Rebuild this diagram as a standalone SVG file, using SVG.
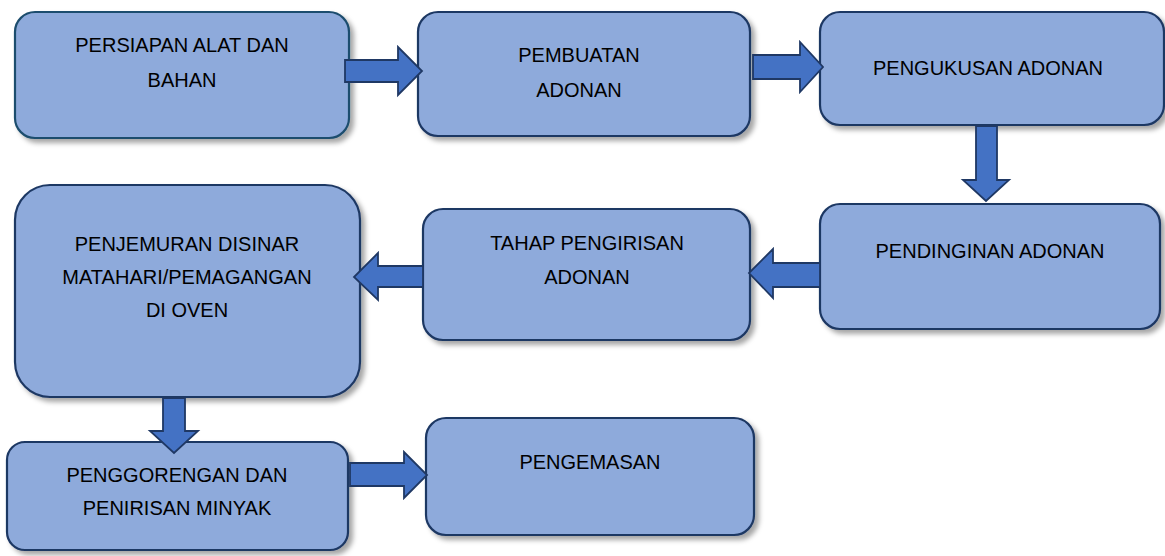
<svg xmlns="http://www.w3.org/2000/svg" width="1165" height="556" viewBox="0 0 1165 556">
<style>
.box{fill:#8eaadb;stroke:#1f3864;stroke-width:2.2;filter:url(#sh)}
.arr{fill:#4472c4;stroke:#1f3864;stroke-width:1.8;stroke-linejoin:miter}
text{font-family:"Liberation Sans",Arial,sans-serif;font-size:20px;fill:#000;text-anchor:middle}
</style>
<defs>
<filter id="sh" x="-10%" y="-10%" width="125%" height="130%">
<feDropShadow dx="4" dy="4" stdDeviation="2.5" flood-color="#000" flood-opacity="0.35"/>
</filter>
</defs>
<rect width="1165" height="556" fill="#fff"/>
<g id="n1"><rect class="box" x="15" y="12" width="334" height="126" rx="20" style="stroke:#1f4e6e"/><text x="182" y="52">PERSIAPAN ALAT DAN</text><text x="182" y="87">BAHAN</text></g>
<g id="n2"><rect class="box" x="418" y="12" width="332" height="124" rx="20"/><text x="579" y="62">PEMBUATAN</text><text x="579" y="97">ADONAN</text></g>
<g id="n3"><rect class="box" x="820" y="12" width="344" height="113" rx="20"/><text x="988" y="75">PENGUKUSAN ADONAN</text></g>
<g id="n4"><rect class="box" x="820" y="204" width="340" height="125" rx="20"/><text x="990" y="258">PENDINGINAN ADONAN</text></g>
<g id="n5"><rect class="box" x="423" y="209" width="327" height="131" rx="20"/><text x="587" y="250">TAHAP PENGIRISAN</text><text x="587" y="284">ADONAN</text></g>
<g id="n6"><rect class="box" x="15" y="185" width="345" height="212" rx="35"/><text x="187" y="251">PENJEMURAN DISINAR</text><text x="187" y="284">MATAHARI/PEMAGANGAN</text><text x="187" y="317">DI OVEN</text></g>
<g id="n7"><rect class="box" x="7" y="442" width="341" height="108" rx="18"/><text x="177" y="482">PENGGORENGAN DAN</text><text x="177" y="515">PENIRISAN MINYAK</text></g>
<g id="n8"><rect class="box" x="426" y="418" width="328" height="117" rx="20"/><text x="590" y="469">PENGEMASAN</text></g>
<g id="connectors">
<polygon class="arr" points="345,60 398,60 398,47 422,71 398,95 398,82 345,82"/>
<polygon class="arr" points="753,55 800,55 800,42 823,67 800,92 800,79 753,79"/>
<polygon class="arr" points="976,126 997,126 997,180 1009,180 986,201 963,180 976,180"/>
<polygon class="arr" points="820,263 773,263 773,249 749,273 773,298 773,287 820,287"/>
<polygon class="arr" points="423,266 378,266 378,253 354,277 378,300 378,287 423,287"/>
<polygon class="arr" points="163,398 185,398 185,431 198,431 174,453 150,431 163,431"/>
<polygon class="arr" points="350,463 404,463 404,452 427,475 404,498 404,486 350,486"/>
</g>
</svg>
